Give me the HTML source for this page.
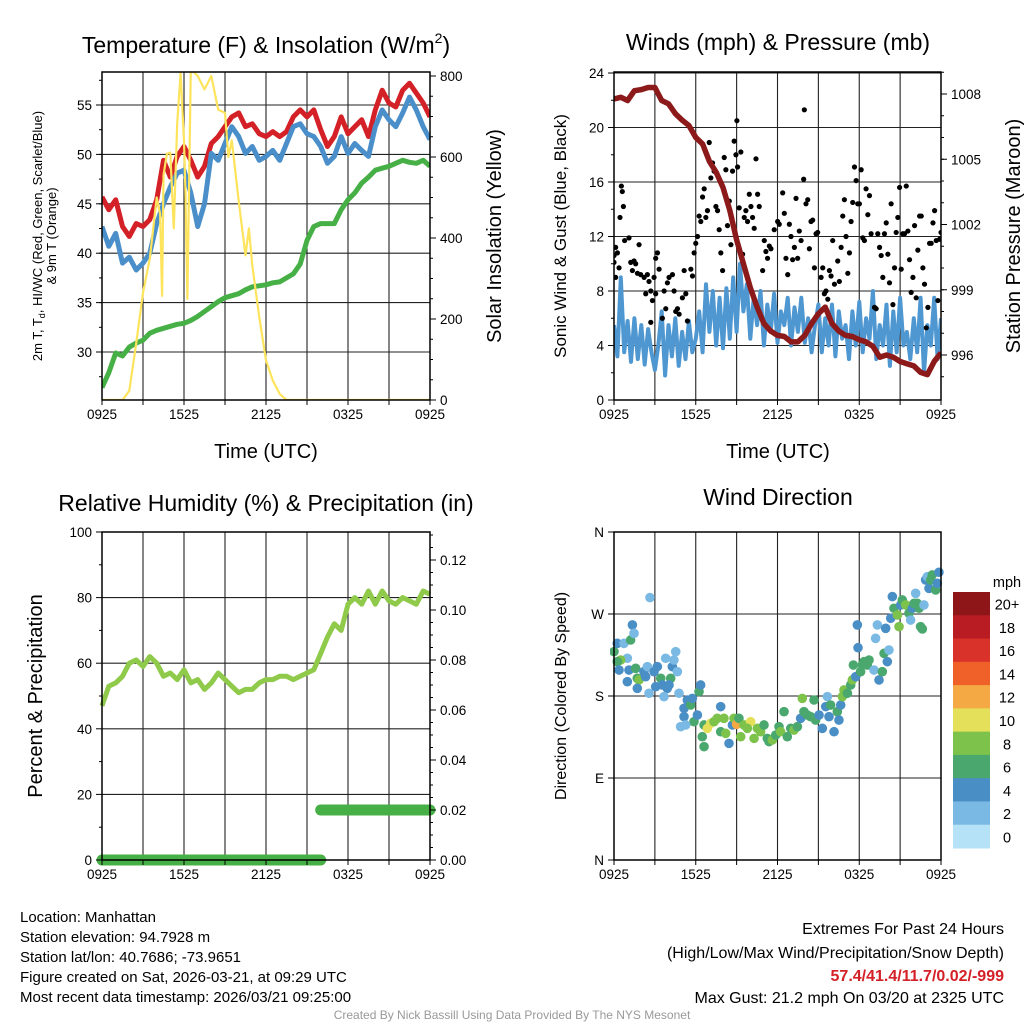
<!DOCTYPE html>
<html><head><meta charset="utf-8"><style>
html,body{margin:0;padding:0;background:#fff;}
svg{display:block;font-family:"Liberation Sans",sans-serif;}
</style></head><body>
<svg id="chart" width="1024" height="1024" viewBox="0 0 1024 1024" xmlns="http://www.w3.org/2000/svg">
<defs>
<clipPath id="clip1"><rect x="102" y="72" width="328" height="328"/></clipPath>
<clipPath id="clip2"><rect x="614" y="72" width="327" height="328"/></clipPath>
<clipPath id="clip4"><rect x="610" y="528" width="335" height="336"/></clipPath>
</defs>
<rect width="1024" height="1024" fill="#fff"/>
<g id="grids"></g><g id="marks"></g><g id="axes"></g>
<text x="266" y="53" font-size="23" text-anchor="middle">Temperature (F) &amp; Insolation (W/m<tspan font-size="14" dy="-10">2</tspan><tspan dy="10">)</tspan></text>
<text x="778" y="50" font-size="23" text-anchor="middle">Winds (mph) &amp; Pressure (mb)</text>
<text x="266" y="511" font-size="23" text-anchor="middle">Relative Humidity (%) &amp; Precipitation (in)</text>
<text x="778" y="505" font-size="23" text-anchor="middle">Wind Direction</text>
<text x="266" y="458" font-size="20" text-anchor="middle">Time (UTC)</text>
<text x="778" y="458" font-size="20" text-anchor="middle">Time (UTC)</text>
<g font-size="13" text-anchor="middle">
<text transform="translate(42,236) rotate(-90)">2m T, T<tspan font-size="9" dy="3">d</tspan><tspan dy="-3">, HI/WC (Red, Green, Scarlet/Blue)</tspan></text>
<text transform="translate(56,236) rotate(-90)">&amp; 9m T (Orange)</text>
</g>
<text transform="translate(501,236) rotate(-90)" font-size="20" text-anchor="middle">Solar Insolation (Yellow)</text>
<text transform="translate(566,236) rotate(-90)" font-size="17" text-anchor="middle">Sonic Wind &amp; Gust (Blue, Black)</text>
<text transform="translate(1020,236) rotate(-90)" font-size="20" text-anchor="middle">Station Pressure (Maroon)</text>
<text transform="translate(42,696) rotate(-90)" font-size="20" text-anchor="middle">Percent &amp; Precipitation</text>
<text transform="translate(566,696) rotate(-90)" font-size="16" text-anchor="middle">Direction (Colored By Speed)</text>
<g font-size="15">
<text x="20" y="922">Location: Manhattan</text>
<text x="20" y="942">Station elevation: 94.7928 m</text>
<text x="20" y="962">Station lat/lon: 40.7686; -73.9651</text>
<text x="20" y="982">Figure created on Sat, 2026-03-21, at 09:29 UTC</text>
<text x="20" y="1002">Most recent data timestamp: 2026/03/21 09:25:00</text>
</g>
<g font-size="16" text-anchor="end">
<text x="1004" y="934">Extremes For Past 24 Hours</text>
<text x="1004" y="958">(High/Low/Max Wind/Precipitation/Snow Depth)</text>
<text x="1004" y="981" fill="#d42027" font-weight="bold">57.4/41.4/11.7/0.02/-999</text>
<text x="1004" y="1003">Max Gust: 21.2 mph On 03/20 at 2325 UTC</text>
</g>
<text x="512" y="1019" font-size="12" fill="#999" text-anchor="middle">Created By Nick Bassill Using Data Provided By The NYS Mesonet</text>
<g id="colorbar"></g>
</svg>
<script>
// ---- data ----
const xTickLabels = ["0925","1525","2125","0325","0925"];
const tempRed = [45.7,44.4,45.4,42.7,41.7,43.0,42.7,43.4,45.4,49.4,47.7,49.8,50.8,49.4,47.7,48.8,51.1,51.8,52.8,53.8,54.2,52.8,53.1,52.1,51.8,52.3,51.8,52.3,53.8,54.5,53.8,54.5,52.5,50.8,51.8,53.8,52.1,52.8,53.5,51.8,54.5,56.5,55.2,54.8,56.5,57.2,56.2,55.2,53.8];
const tempBlue = [42.7,40.7,42.0,39.0,39.6,38.3,39.0,40.0,43.0,45.0,46.7,48.1,48.4,46.1,42.7,45.0,50.1,49.4,51.1,52.8,51.8,50.1,50.8,49.4,49.8,50.4,49.4,51.1,52.8,53.1,52.1,51.8,50.8,49.1,49.8,51.8,50.1,51.1,50.4,49.8,52.8,54.5,53.5,52.8,54.2,55.8,54.5,52.8,51.5];
const tempGreen = [26.4,27.9,29.9,29.6,30.5,30.9,31.2,31.9,32.2,32.4,32.6,32.8,32.9,33.2,33.6,34.1,34.6,35.1,35.5,35.7,35.9,36.3,36.6,36.7,36.8,37.0,37.1,37.5,37.9,38.9,41.3,42.7,43.0,43.0,43.0,44.4,45.4,46.1,47.1,47.7,48.4,48.6,48.8,49.1,49.4,49.2,49.1,49.4,48.8];
const solarT = [0,1.5,2,2.5,3,3.5,4,4.25,4.4,4.5,4.75,5,5.25,5.5,5.75,6,6.1,6.25,6.5,7,7.5,8,8.5,9,9.25,9.5,10,10.5,10.75,11,11.5,12,12.5,13,13.5,24];
const solarW = [0,0,23,140,265,349,500,460,257,555,608,611,424,683,808,640,516,250,817,800,767,800,717,709,600,641,491,357,424,332,206,98,48,15,0,0];
const windSpd = [5.5,3.2,9.0,3.5,5.8,2.8,6.0,3.0,5.5,2.6,5.2,3.5,2.2,4.0,6.5,1.8,5.5,3.2,6.0,2.5,5.0,3.0,5.8,3.5,4.5,6.5,3.5,8.5,5.0,8.0,4.0,7.5,3.8,8.2,4.5,9.0,5.0,10.0,6.5,8.5,4.5,7.5,5.5,8.0,4.0,7.0,5.0,7.8,4.2,6.5,5.5,7.5,4.0,6.8,5.0,7.5,4.2,6.0,3.5,5.5,7.0,3.5,6.0,4.0,7.0,3.2,6.5,4.5,5.5,3.0,6.5,4.0,7.2,3.5,6.0,4.5,8.0,3.0,5.5,4.0,7.0,2.5,6.5,3.5,7.5,4.0,5.0,3.0,6.0,3.5,7.5,2.0,5.5,4.0,7.5,3.0,6.0];
const gustT = [0,0,0.12,0.25,0.37,0.12,0.44,0.54,0.61,0.69,0.78,1.1,1.23,1.35,1.47,1.59,1.72,1.84,1.96,2.21,2.33,2.45,2.57,2.7,2.82,2.7,3.06,3.19,3.31,2.94,3.06,3.55,3.68,3.8,3.92,4.04,4.29,4.41,4.53,4.66,4.78,5.02,5.15,5.27,5.39,5.64,5.76,5.88,6.0,6.13,6.25,6.37,6.5,6.62,6.74,6.86,6.99,7.11,7.23,7.35,7.48,7.6,7.72,7.84,7.97,8.09,8.21,8.33,8.46,8.58,8.7,8.82,8.95,9.02,9.07,9.19,9.31,9.44,9.56,9.68,9.8,9.93,10.05,10.17,10.29,10.42,10.54,10.66,10.91,11.03,11.15,11.27,11.4,11.52,11.76,12.01,12.13,12.38,12.5,12.62,12.75,12.87,12.99,13.11,13.24,13.36,13.48,13.6,13.73,13.92,13.97,14.09,14.22,14.34,14.46,14.58,14.71,14.83,14.95,15.2,15.32,15.44,15.56,15.69,15.81,15.93,16.05,16.18,16.42,16.54,16.67,16.79,16.91,17.03,17.16,17.28,17.4,17.52,17.65,17.77,17.89,18.01,18.14,18.26,18.38,18.5,18.63,18.75,18.87,19.12,19.24,19.36,19.49,19.61,19.73,19.85,19.98,20.1,20.22,20.34,20.47,20.59,20.71,20.83,20.96,21.08,21.2,21.32,21.45,21.57,21.69,21.81,21.94,22.06,22.18,22.3,22.43,22.55,22.67,22.79,22.92,23.04,23.16,23.28,23.41,23.53,23.65,23.77,23.9,24];
const gustSpd = [10.6,10.1,11.2,10.8,9.7,9.0,13.4,15.7,15.3,14.2,11.7,11.9,10.1,9.5,10.2,10.0,9.3,11.4,9.2,9.0,7.8,9.2,8.7,8.0,7.3,5.7,10.4,10.8,9.6,9.0,7.8,6.0,8.0,6.7,8.6,9.0,9.2,8.0,6.5,6.7,6.3,7.5,9.5,7.8,5.8,9.6,9.1,10.8,11.5,12.0,13.5,13.1,14.9,15.5,13.4,13.9,18.9,16.3,17.4,16.8,14.2,13.9,12.5,10.8,9.5,17.8,16.9,12.8,14.6,11.4,16.8,19.0,18.0,20.5,17.1,14.1,18.2,10.7,13.4,13.9,13.1,15.1,14.2,13.4,12.6,17.7,15.1,14.2,9.5,11.7,10.9,10.4,11.3,11.1,12.5,13.1,12.9,15.2,13.7,10.4,9.2,12.9,12.0,10.3,11.2,14.8,10.4,12.4,11.7,16.2,21.3,14.4,14.7,11.1,13.1,13.2,9.7,12.2,12.3,9.0,9.7,7.8,8.0,7.4,9.5,9.1,11.7,8.5,10.2,8.7,11.2,13.5,14.7,12.0,9.3,10.8,13.1,14.5,17.1,16.1,14.4,14.4,16.9,11.9,11.7,15.5,13.6,15.0,12.2,6.8,6.7,12.2,11.2,10.6,9.0,12.2,13.0,10.7,8.6,14.4,7.0,9.7,12.3,13.4,15.6,9.6,12.2,12.2,15.7,12.4,10.3,7.9,9.0,12.8,7.5,11.0,13.5,13.5,9.7,8.5,5.3,6.8,11.5,11.5,13.0,13.9,11.7,7.3,11.8,12.3];
const pressure = [1007.77,1007.85,1007.7,1008.15,1008.2,1008.3,1008.3,1007.7,1007.55,1007.1,1006.8,1006.55,1006.0,1005.7,1004.9,1004.4,1003.7,1002.65,1001.3,1000.2,999.1,998.2,997.45,997.1,996.9,996.85,996.6,996.6,996.9,997.45,997.9,998.2,997.45,997.1,996.9,996.85,996.7,996.6,996.4,995.9,996.0,995.9,995.7,995.6,995.5,995.2,995.1,995.7,996.1];
const rh = [47,53,54,56,60,61,59,62,60,56,57,55,58,54,55,52,54,57,55,53,51,52,52,54,55,55,56,56,55,56,57,58,63,68,72,70,78,80,78,82,78,82,79,78,80,79,78,82,81];
const precipT = [0,16.0,16.0,24];
const precipV = [0,0,0.02,0.02];
const dirT = [0,0.24,0.73,1.22,1.35,1.47,0.98,0.49,0.24,0.37,1.1,1.59,1.71,1.83,2.2,2.32,2.45,2.57,2.64,2.94,3.06,3.18,3.43,3.55,3.79,3.91,4.16,4.28,4.4,4.53,4.65,4.77,3.67,4.04,1.71,0.98,5.14,5.14,5.38,5.63,5.75,5.87,6.12,6.24,6.36,4.89,5.26,6.61,6.61,6.48,6.85,7.09,7.34,7.58,7.83,7.83,8.07,8.2,8.44,8.69,8.81,9.0,9.17,9.3,9.54,10.03,9.79,10.28,10.52,10.76,11.01,11.25,11.38,11.62,11.87,12.11,12.23,12.48,12.72,12.97,13.21,13.46,13.7,13.82,13.94,14.19,14.43,14.68,14.8,15.05,15.29,15.54,15.66,15.78,15.9,16.15,16.39,16.51,16.64,16.76,16.88,17.13,17.37,17.49,17.57,17.74,17.86,17.91,18.1,18.23,18.35,18.59,18.72,19.08,19.2,19.33,19.45,19.69,19.82,19.94,20.06,20.18,20.31,20.43,20.55,20.8,20.92,21.04,21.16,21.41,21.65,21.77,21.9,22.02,22.14,22.26,22.39,22.5,22.63,22.75,22.87,23.0,23.12,23.24,23.36,23.61,23.73,23.85,23.98];
const dirDeg = [228.7,237.8,237.8,241.5,258,248.8,221.4,219.5,217.7,208.5,208.5,210.4,199.4,197.6,206.7,201.2,212.2,183,288,206.7,190.2,212.2,199.4,192.1,221.4,188.4,199.4,212.2,219.5,228.7,206.7,183,179.3,192.1,188.4,195.7,166.5,157.3,175.6,170.1,177.4,151.8,159.1,184.8,192.1,146.3,148.2,148.2,124.4,135.3,144.5,150,151.8,155.5,168.3,140.8,155.5,139,128,148.2,155.5,148.9,155.5,135.3,148.2,151.8,144.5,133.5,144.5,140.8,148.2,133.5,129.9,131.7,137.2,146.3,140.8,162.8,135.3,144.5,142.6,146.3,155.5,177.4,162.8,159.1,157.3,175.6,153.6,159.1,144.5,168.3,179.3,157.3,170.1,140.8,162.8,153.6,170.1,179.3,186.6,183,192.1,197.6,214,201.2,258,233,206.7,214,217.7,214,219.5,208.5,243.3,258,197.6,206.7,226.8,254.3,217.7,230.5,265.3,289.1,276.3,268.9,256.1,279.9,285.4,279.9,270.8,263.4,276.3,281.7,292.7,281.7,276.3,256.1,253.6,279.9,307.4,311,298.2,307.4,312.9,296.4,303.7,315.8];
const dirSpd = [6,4,2,6,4,2,2,8,6,4,4,6,6,8,4,4,2,2,2,4,4,4,6,4,2,4,6,4,2,2,2,2,2,4,4,4,4,4,4,6,4,6,4,6,4,2,2,6,6,6,10,10,8,8,4,6,8,8,4,4,8,12,6,8,8,10,8,8,8,8,6,6,6,8,6,6,8,6,6,6,8,6,4,8,6,6,6,6,6,4,4,4,2,4,6,4,6,4,4,8,8,6,6,8,6,4,4,4,6,6,6,6,6,2,2,2,4,6,6,4,4,2,4,4,6,8,8,4,6,8,6,2,4,6,2,6,6,6,6,2,4,2,4,6,6,6,4,4,8];
const cbLabels = ["20+","18","16","14","12","10","8","6","4","2","0"];
const cbColors = ["#8e1518","#b91c23","#d9322a","#ef6128","#f5a944","#e5e05a","#7dc24a","#4aa86e","#4a8ec6","#7ab9e3","#b5e2f7"];

// ---- helpers ----
const NS="http://www.w3.org/2000/svg";
function mk(tag, parent, attrs){const e=document.createElementNS(NS,tag);for(const k in attrs)e.setAttribute(k,attrs[k]);parent.appendChild(e);return e;}
const G=document.getElementById('grids'),M=document.getElementById('marks'),A=document.getElementById('axes');
function linScale(d0,d1,r0,r1){return v=>r0+(v-d0)*(r1-r0)/(d1-d0);}
function pathOf(xs,ys,fx,fy){const n=Math.min(xs.length,ys.length);let d='';for(let i=0;i<n;i++){d+=(i?'L':'M')+fx(xs[i]).toFixed(1)+','+fy(ys[i]).toFixed(1);}return d;}
function evenT(n){return Array.from({length:n},(_,i)=>i*24/(n-1));}

function panel(name,x0,x1,y0,y1){
  const fx=linScale(0,24,x0,x1);
  for(let h=3;h<24;h+=3){
    const l=mk('line',G,{x1:fx(h),x2:fx(h),y1:y0,y2:y1,stroke:'#222','stroke-width':1.1});
    
    
  }
  const fr=mk('rect',A,{x:x0,y:y0,width:x1-x0,height:y1-y0,fill:'none',stroke:'#000','stroke-width':1.5});
  
  
  for(let h=0;h<=24;h+=3){
    mk('line',A,{x1:fx(h),x2:fx(h),y1:y1,y2:y1+5,stroke:'#000','stroke-width':1});
  }
  xTickLabels.forEach((lab,i)=>{
    const t=mk('text',A,{x:fx(i*6),y:y1+19,'font-size':13.5,'text-anchor':'middle'});
    t.textContent=lab;
    
    
  });
  return fx;
}
function yAxis(name,fy,vals,labels,minor,side,x,x0,x1,grid){
  const dir=side==='left'?-1:1;
  vals.forEach((v,i)=>{
    const y=fy(v);
    if(grid){const g=mk('line',G,{x1:x0,x2:x1,y1:y,y2:y,stroke:'#222','stroke-width':1.1});
      
      }
    mk('line',A,{x1:x,x2:x+dir*6,y1:y,y2:y,stroke:'#000','stroke-width':1});
    const t=mk('text',A,{x:x+dir*10,y:y+5,'font-size':13.5,'text-anchor':side==='left'?'end':'start'});
    t.textContent=labels[i];
    
    
  });
  minor.forEach(v=>{const y=fy(v);mk('line',A,{x1:x,x2:x+dir*3,y1:y,y2:y,stroke:'#000','stroke-width':1});});
}
function range(a,b,s){const r=[];for(let v=a;v<=b+1e-9;v+=s)r.push(+v.toFixed(4));return r;}

// ---- Panel 1: temperature ----
{
 const fx=panel('temp',102,430,72,400);
 const fy=linScale(30,55,352,105);
 const fs=linScale(0,800,400,76);
 yAxis('temp-left',fy,[30,35,40,45,50,55],["30","35","40","45","50","55"],range(27.5,57.5,2.5),'left',102,102,430,true);
 yAxis('solar-right',fs,[0,200,400,600,800],["0","200","400","600","800"],range(50,800,50),'right',430,102,430,false);
 const g=mk('g',M,{'clip-path':'url(#clip1)'});
 const tt=evenT(tempRed.length);
 const p1=mk('path',g,{d:pathOf(tt,tempRed,fx,fy),fill:'none',stroke:'#d42027','stroke-width':5,'stroke-linejoin':'round'});
 
 
 const p2=mk('path',g,{d:pathOf(tt,tempBlue,fx,fy),fill:'none',stroke:'#4b8fca','stroke-width':5,'stroke-linejoin':'round'});
 
 
 const p3=mk('path',g,{d:pathOf(evenT(tempGreen.length),tempGreen,fx,fy),fill:'none',stroke:'#46b046','stroke-width':5,'stroke-linejoin':'round'});
 
 
 const p4=mk('path',g,{d:pathOf(solarT,solarW,fx,fs),fill:'none',stroke:'#fde45c','stroke-width':2.2,'stroke-linejoin':'round'});
 
 
}
// ---- Panel 2: winds ----
{
 const fx=panel('winds',614,941,72,400);
 const fy=linScale(0,24,400,73);
 const fp=linScale(996,1008,355,94);
 yAxis('wind-left',fy,[0,4,8,12,16,20,24],["0","4","8","12","16","20","24"],range(2,22,4),'left',614,614,941,true);
 yAxis('pressure-right',fp,[996,999,1002,1005,1008],["996","999","1002","1005","1008"],range(995,1009,1),'right',941,614,941,false);
 const g=mk('g',M,{'clip-path':'url(#clip2)'});
 const w=mk('path',g,{d:pathOf(evenT(windSpd.length),windSpd,fx,fy),fill:'none',stroke:'#4f97d1','stroke-width':4,'stroke-linejoin':'round'});
 
 
 const n=Math.min(gustT.length,gustSpd.length);
 for(let i=0;i<n;i++){
   const c=mk('circle',g,{cx:fx(gustT[i]),cy:fy(gustSpd[i]),r:2.6,fill:'#000'});
   
   
 }
 const p=mk('path',g,{d:pathOf(evenT(pressure.length),pressure,fx,fp),fill:'none',stroke:'#8c1a1a','stroke-width':5.5,'stroke-linejoin':'round'});
 
 
}
// ---- Panel 3: humidity ----
{
 const fx=panel('rh',102,430,532,860);
 const fy=linScale(0,100,860,532);
 const fp=linScale(0,0.12,860,560);
 yAxis('rh-left',fy,[0,20,40,60,80,100],["0","20","40","60","80","100"],range(10,90,20),'left',102,102,430,true);
 yAxis('precip-right',fp,[0,0.02,0.04,0.06,0.08,0.10,0.12],["0.00","0.02","0.04","0.06","0.08","0.10","0.12"],range(0.005,0.13,0.005),'right',430,102,430,false);
 const r=mk('path',M,{d:pathOf(evenT(rh.length),rh,fx,fy),fill:'none',stroke:'#8fca4a','stroke-width':5,'stroke-linejoin':'round'});
 
 
 for(let i=0;i<precipT.length-1;i++){
   if(precipV[i]!==precipV[i+1])continue;
   const s=mk('line',M,{x1:fx(precipT[i]),x2:fx(precipT[i+1]),y1:fp(precipV[i]),y2:fp(precipV[i]),stroke:'#46b046','stroke-width':11,'stroke-linecap':'round'});
   
   
 }
}
// ---- Panel 4: wind direction ----
{
 const fx=panel('dir',614,941,532,860);
 const fy=linScale(0,360,860,532);
 yAxis('dir-left',fy,[0,90,180,270,360],["N","E","S","W","N"],[],'left',614,614,941,true);
 const g=mk('g',M,{'clip-path':'url(#clip4)'});
 const n=Math.min(dirT.length,dirDeg.length,dirSpd.length);
 for(let i=0;i<n;i++){
   const k=Math.min(10,Math.floor(dirSpd[i]/2));
   const c=mk('circle',g,{cx:fx(dirT[i]),cy:fy(dirDeg[i]),r:4.8,fill:cbColors[10-k]});
   
   
 }
 const CB=document.getElementById('colorbar');
 const h=(848-592)/cbLabels.length;
 cbLabels.forEach((lab,i)=>{
   const r=mk('rect',CB,{x:953,y:592+i*h,width:37,height:h+0.5,fill:cbColors[i]});
   
   
   const t=mk('text',CB,{x:1007,y:592+i*h+h/2+6,'font-size':14.5,'text-anchor':'middle'});
   t.textContent=lab;
   
   
 });
 const u=mk('text',CB,{x:1007,y:587,'font-size':14.5,'text-anchor':'middle'});
 u.textContent='mph';
 
 
}
</script>
</body></html>
